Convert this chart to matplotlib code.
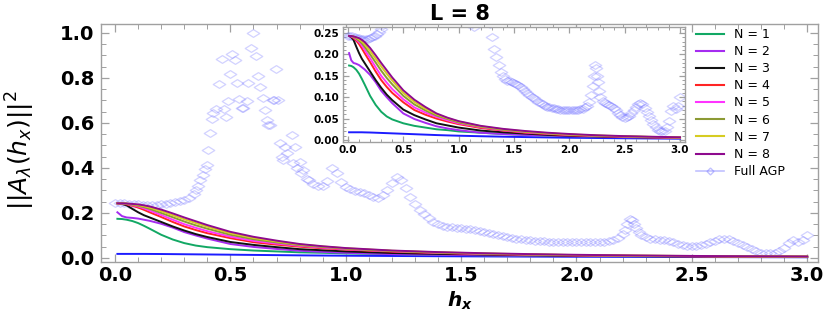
import matplotlib
matplotlib.use("Agg")
import matplotlib.pyplot as plt
from matplotlib.lines import Line2D
from matplotlib.path import Path
from matplotlib.ticker import MultipleLocator, FormatStrFormatter

# ---------------- dados ----------------
hx = [0.01, 0.03, 0.05, 0.075, 0.1, 0.125, 0.15, 0.2, 0.25, 0.3, 0.35, 0.4, 0.5, 0.6,
      0.7, 0.8, 0.9, 1.0, 1.2, 1.4, 1.6, 1.8, 2.0, 2.25, 2.5, 2.75, 3.0]

curva_azul = [0.018, 0.018, 0.018, 0.018, 0.018, 0.018, 0.0178, 0.0175, 0.017, 0.0165, 0.016,
              0.0155, 0.0145, 0.0135, 0.0125, 0.0115, 0.0107, 0.010, 0.0088, 0.0077, 0.0068,
              0.006, 0.0053, 0.0046, 0.004, 0.0035, 0.003]

n1 = [0.174, 0.173, 0.170, 0.164, 0.155, 0.143, 0.130, 0.103, 0.082, 0.066, 0.055, 0.048,
      0.039, 0.033, 0.029, 0.025, 0.023, 0.020, 0.017, 0.014, 0.012, 0.0105, 0.0092, 0.008,
      0.007, 0.006, 0.005]
n2 = [0.203, 0.186, 0.180, 0.178, 0.175, 0.170, 0.165, 0.152, 0.135, 0.115, 0.100, 0.086,
      0.062, 0.049, 0.040, 0.032, 0.027, 0.023, 0.017, 0.014, 0.012, 0.0105, 0.0092, 0.008,
      0.0065, 0.0055, 0.0045]
n3 = [0.243, 0.240, 0.234, 0.218, 0.203, 0.190, 0.180, 0.160, 0.140, 0.122, 0.106, 0.093,
      0.071, 0.058, 0.048, 0.039, 0.034, 0.029, 0.022, 0.018, 0.015, 0.012, 0.010, 0.0085,
      0.007, 0.006, 0.005]
n4 = [0.243, 0.242, 0.238, 0.232, 0.224, 0.214, 0.203, 0.182, 0.160, 0.140, 0.124, 0.110,
      0.088, 0.070, 0.059, 0.050, 0.043, 0.037, 0.028, 0.022, 0.017, 0.014, 0.011, 0.009,
      0.0075, 0.0062, 0.0052]
n5 = [0.243, 0.242, 0.240, 0.235, 0.229, 0.221, 0.211, 0.191, 0.170, 0.150, 0.134, 0.119,
      0.095, 0.076, 0.064, 0.054, 0.046, 0.039, 0.030, 0.023, 0.018, 0.015, 0.012, 0.0097,
      0.008, 0.0066, 0.0055]
n6 = [0.243, 0.243, 0.241, 0.237, 0.232, 0.226, 0.218, 0.200, 0.181, 0.162, 0.145, 0.130,
      0.103, 0.083, 0.069, 0.057, 0.049, 0.041, 0.031, 0.024, 0.019, 0.0155, 0.0125, 0.010,
      0.0083, 0.0069, 0.0058]
n7 = [0.243, 0.243, 0.242, 0.239, 0.235, 0.230, 0.224, 0.208, 0.190, 0.172, 0.155, 0.139,
      0.110, 0.089, 0.073, 0.060, 0.051, 0.043, 0.032, 0.025, 0.020, 0.016, 0.013, 0.0105,
      0.0087, 0.0072, 0.006]
n8 = [0.243, 0.243, 0.242, 0.240, 0.238, 0.234, 0.229, 0.215, 0.198, 0.180, 0.163, 0.146,
      0.116, 0.094, 0.077, 0.062, 0.052, 0.044, 0.033, 0.026, 0.021, 0.017, 0.014, 0.011,
      0.009, 0.0075, 0.0063]

curvas_n = [n1, n2, n3, n4, n5, n6, n7, n8]
nomes_n = ["N = 1", "N = 2", "N = 3", "N = 4", "N = 5", "N = 6", "N = 7", "N = 8"]
cores_n = ["#12a864", "#a52cf0", "#111111", "#ff2424", "#ff34ff", "#8c9a34", "#d6cc22", "#8e0a8e"]

# Full AGP (pontos)
agp_x = [0.00, 0.02, 0.04, 0.06, 0.08, 0.10, 0.12, 0.14, 0.16, 0.18, 0.20, 0.22, 0.24, 0.26,
         0.28, 0.30, 0.32, 0.34, 0.35, 0.36, 0.37, 0.38, 0.39, 0.397,
         0.402, 0.412, 0.419, 0.426, 0.437, 0.451, 0.462, 0.474, 0.481, 0.488, 0.498, 0.509,
         0.520, 0.529, 0.537, 0.549, 0.556, 0.571, 0.578, 0.590, 0.600, 0.610, 0.618, 0.630,
         0.640, 0.650, 0.657, 0.665, 0.672, 0.683, 0.691, 0.698, 0.708, 0.715, 0.722, 0.730,
         0.737, 0.744, 0.766, 0.773, 0.780, 0.790, 0.800, 0.805, 0.816, 0.83,
         0.84, 0.86, 0.88, 0.90, 0.92, 0.94, 0.96, 0.98, 1.00, 1.02, 1.04, 1.06, 1.08, 1.10,
         1.12, 1.14, 1.16, 1.18, 1.20, 1.22, 1.24, 1.26, 1.28, 1.30, 1.32, 1.34, 1.36, 1.38,
         1.40, 1.42, 1.44, 1.46, 1.48, 1.50, 1.52, 1.54, 1.56, 1.58, 1.60, 1.62, 1.64, 1.66,
         1.68, 1.70, 1.72, 1.74, 1.76, 1.78, 1.80, 1.82, 1.84, 1.86, 1.88, 1.90, 1.92, 1.94,
         1.96, 1.98, 2.00, 2.02, 2.04, 2.06, 2.08, 2.10, 2.12, 2.14, 2.16, 2.18, 2.20, 2.21,
         2.22, 2.23, 2.24, 2.25, 2.26, 2.27, 2.28, 2.30, 2.32, 2.34, 2.36, 2.38, 2.40, 2.42,
         2.44, 2.46, 2.48, 2.50, 2.52, 2.54, 2.56, 2.58, 2.60, 2.62, 2.64, 2.66, 2.68, 2.70,
         2.72, 2.74, 2.76, 2.78, 2.80, 2.82, 2.84, 2.86, 2.88, 2.90, 2.92, 2.94, 2.96, 2.98,
         3.00]
agp_y = [0.243, 0.244, 0.243, 0.241, 0.239, 0.238, 0.237, 0.236, 0.236, 0.237, 0.238, 0.240,
         0.243, 0.247, 0.252, 0.259, 0.268, 0.285, 0.300, 0.320, 0.345, 0.370, 0.395, 0.413,
         0.480, 0.554, 0.618, 0.643, 0.661, 0.773, 0.884, 0.661, 0.625, 0.698, 0.816, 0.905,
         0.878, 0.779, 0.705, 0.665, 0.668, 0.698, 0.779, 0.935, 1.001, 0.898, 0.809, 0.758,
         0.711, 0.658, 0.613, 0.591, 0.591, 0.702, 0.700, 0.838, 0.700, 0.512, 0.447, 0.436,
         0.495, 0.465, 0.547, 0.420, 0.495, 0.400, 0.428, 0.376, 0.391, 0.350,
         0.345, 0.330, 0.318, 0.322, 0.340, 0.398, 0.378, 0.338, 0.315, 0.305, 0.299, 0.294,
         0.288, 0.279, 0.270, 0.265, 0.278, 0.302, 0.335, 0.360, 0.345, 0.312, 0.272, 0.240,
         0.212, 0.195, 0.176, 0.160, 0.150, 0.143, 0.138, 0.137, 0.135, 0.133, 0.130, 0.128,
         0.124, 0.119, 0.114, 0.110, 0.105, 0.101, 0.097, 0.093, 0.089, 0.086, 0.083, 0.080,
         0.078, 0.076, 0.075, 0.074, 0.073, 0.072, 0.071, 0.071, 0.070, 0.070, 0.070, 0.070,
         0.070, 0.070, 0.071, 0.072, 0.073, 0.076, 0.080, 0.088, 0.105, 0.125, 0.150, 0.175,
         0.168, 0.150, 0.135, 0.115, 0.100, 0.091, 0.086, 0.083, 0.081, 0.079, 0.075, 0.069,
         0.063, 0.058, 0.054, 0.052, 0.053, 0.057, 0.063, 0.070, 0.077, 0.083, 0.086, 0.083,
         0.075, 0.066, 0.057, 0.047, 0.038, 0.030, 0.024, 0.021, 0.020, 0.022, 0.030, 0.045,
         0.068, 0.080, 0.072, 0.080, 0.100]

# ---------------- estilo ----------------
plt.rcParams['font.family'] = ['DejaVu Sans']
plt.rcParams['mathtext.fontset'] = 'custom'
plt.rcParams['mathtext.it'] = 'DejaVu Sans:italic:bold'
plt.rcParams['mathtext.rm'] = 'DejaVu Sans:bold'

cor_moldura = "#a0a0a0"
cor_agp = "#7777ff"

# losango largo como marcador
losango = Path([(-1, 0), (0, 0.62), (1, 0), (0, -0.62), (-1, 0)],
               [Path.MOVETO, Path.LINETO, Path.LINETO, Path.LINETO, Path.CLOSEPOLY])


def desenhar(ax, tam_marcador):
    ax.plot(agp_x, agp_y, ls='none', marker=losango, markersize=tam_marcador,
            markerfacecolor='none', markeredgecolor=cor_agp, markeredgewidth=0.9, alpha=0.33)
    ax.plot(hx, curva_azul, color="#1c1cff", lw=1.4)
    for i in range(len(curvas_n)):
        ax.plot(hx, curvas_n[i], color=cores_n[i], lw=1.4)


def moldura(ax, tam_fonte, maior, menor, pad):
    for s in ax.spines.values():
        s.set_color(cor_moldura)
        s.set_linewidth(1.0)
    ax.tick_params(which='both', direction='in', top=True, right=True, color=cor_moldura,
                   labelsize=tam_fonte, pad=pad)
    ax.tick_params(which='major', length=maior, width=0.9)
    ax.tick_params(which='minor', length=menor, width=0.7)
    for lab in ax.get_xticklabels() + ax.get_yticklabels():
        lab.set_fontweight('bold')


fig = plt.figure(figsize=(8.30, 3.11), dpi=100)

# ---------------- grafico principal ----------------
ax = fig.add_axes([101 / 830, 1 - 262 / 311, 717 / 830, 238 / 311])
desenhar(ax, 9)
ax.set_xlim(-0.061, 3.047)
ax.set_ylim(-0.018, 1.04)
ax.xaxis.set_major_locator(MultipleLocator(0.5))
ax.xaxis.set_minor_locator(MultipleLocator(0.1))
ax.yaxis.set_major_locator(MultipleLocator(0.2))
ax.yaxis.set_minor_locator(MultipleLocator(0.05))
ax.xaxis.set_major_formatter(FormatStrFormatter('%.1f'))
ax.yaxis.set_major_formatter(FormatStrFormatter('%.1f'))
moldura(ax, 14, 6, 3.5, 5)
ax.tick_params(axis='x', pad=3)

ax.set_title("L = 8", fontsize=15, fontweight='bold', pad=3)
ax.set_xlabel(r'$h_x$', fontsize=14.5, math_fontfamily='custom', va='center')
ax.xaxis.set_label_coords(0.5, -0.162)
ax.set_ylabel(r'$||A_\lambda(h_x)||^2$', fontsize=18, math_fontfamily='dejavusans',
              va='center')
ax.yaxis.set_label_coords(-0.112, 0.47)

# legenda
handles = [Line2D([0], [0], color=cores_n[i], lw=1.5) for i in range(len(curvas_n))]
handles.append(Line2D([0], [0], color=cor_agp, lw=1.2, alpha=0.45, marker='D', markersize=3.5,
                      markerfacecolor='none'))
fig.legend(handles, nomes_n + ["Full AGP"], loc='upper left',
           bbox_to_anchor=(696 / 830, 1 - 28 / 311), frameon=False, fontsize=9,
           handlelength=2.2, handletextpad=0.85, labelspacing=0.33, borderpad=0,
           borderaxespad=0)

# ---------------- detalhe (inset) ----------------
ins = fig.add_axes([343 / 830, 1 - 142 / 311, 342 / 830, 115 / 311])
ins.set_facecolor('white')
desenhar(ins, 9)
ins.set_xlim(-0.045, 3.045)
ins.set_ylim(-0.0047, 0.264)
ins.xaxis.set_major_locator(MultipleLocator(0.5))
ins.xaxis.set_minor_locator(MultipleLocator(0.1))
ins.yaxis.set_major_locator(MultipleLocator(0.05))
ins.yaxis.set_minor_locator(MultipleLocator(0.01))
ins.xaxis.set_major_formatter(FormatStrFormatter('%.1f'))
ins.yaxis.set_major_formatter(FormatStrFormatter('%.2f'))
moldura(ins, 7.5, 4, 2, 2.5)

fig.savefig("out.png", dpi=100)
